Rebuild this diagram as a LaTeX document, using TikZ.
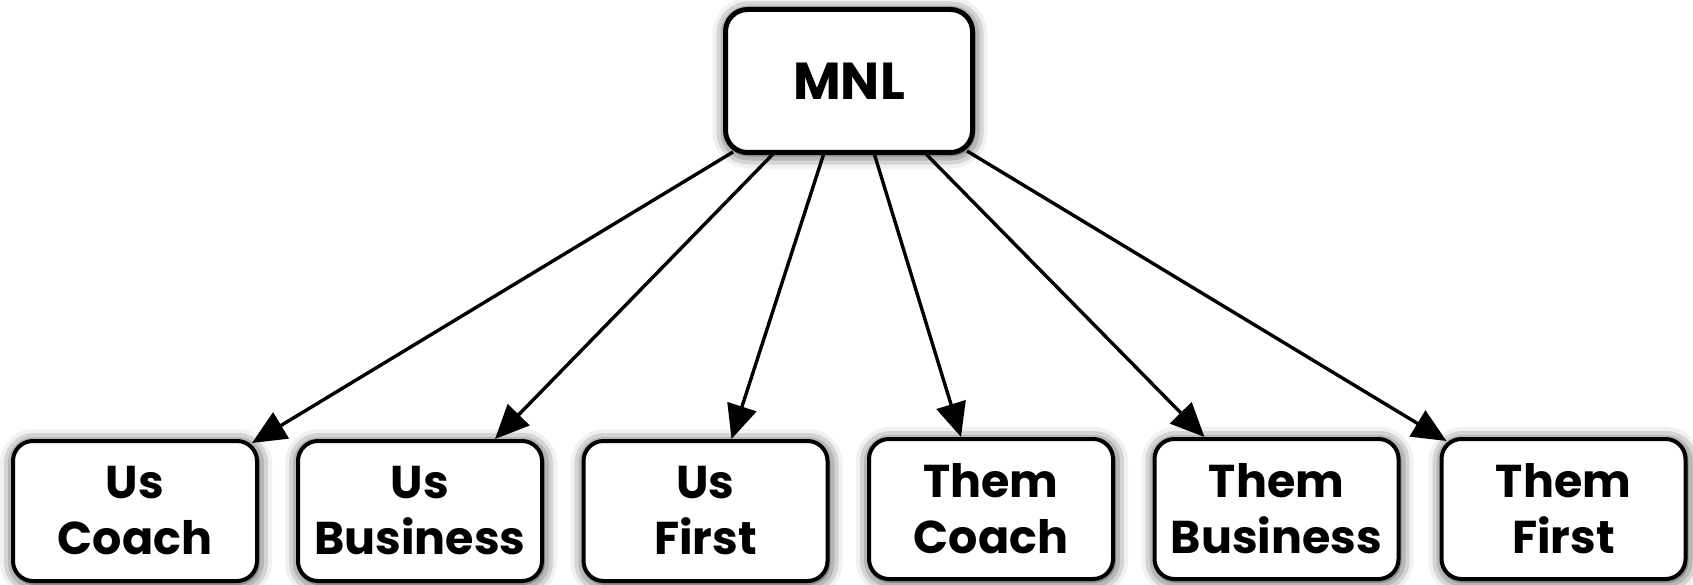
\documentclass[tikz,border=0pt]{standalone}
\usepackage{fontspec}
\setmainfont{Poppins}
\usetikzlibrary{arrows.meta,shadows.blur,calc}
\begin{document}
\begin{tikzpicture}[x=1pt,y=-1pt,
  box/.style={draw=black, line width=4pt, fill=white, rounded corners=20pt,
    minimum width=244pt, minimum height=140pt, align=center, inner sep=0pt,
    font=\fontsize{46}{56}\selectfont\bfseries,
    blur shadow={shadow xshift=1pt, shadow yshift=-2pt, shadow blur radius=14pt, shadow opacity=90}},
  arr/.style={line width=3.4pt, -{Triangle[length=34pt,width=30pt]}}]
\useasboundingbox (0,0) rectangle (1693,585);
\node[box, minimum width=247pt, minimum height=143pt, line width=5pt, rounded corners=22pt, font=\fontsize{52}{60}\selectfont\bfseries] (mnl) at (849,81) {MNL};
\node[box] (uc) at (135,511) {Us\\Coach};
\node[box] (ub) at (420,511) {Us\\Business};
\node[box] (uf) at (705.5,511) {Us\\First};
\node[box] (tc) at (991,509) {Them\\Coach};
\node[box] (tb) at (1276.5,509) {Them\\Business};
\node[box] (tf) at (1563.5,509) {Them\\First};
\draw[arr] ($(mnl.south)+(-116,-3)$) -- ($(uc.north)+(117,4)$);
\draw[arr] ($(mnl.south)+(-75,-2)$) -- ($(ub.north)+(75,0)$);
\draw[arr] ($(mnl.south)+(-25,-2)$) -- ($(uf.north)+(26,0)$);
\draw[arr] ($(mnl.south)+(25,-2)$) -- ($(tc.north)+(-30,0)$);
\draw[arr] ($(mnl.south)+(76,-2)$) -- ($(tb.north)+(-72,0)$);
\draw[arr] ($(mnl.south)+(118,-4)$) -- ($(tf.north)+(-117,4)$);
\end{tikzpicture}
\end{document}
